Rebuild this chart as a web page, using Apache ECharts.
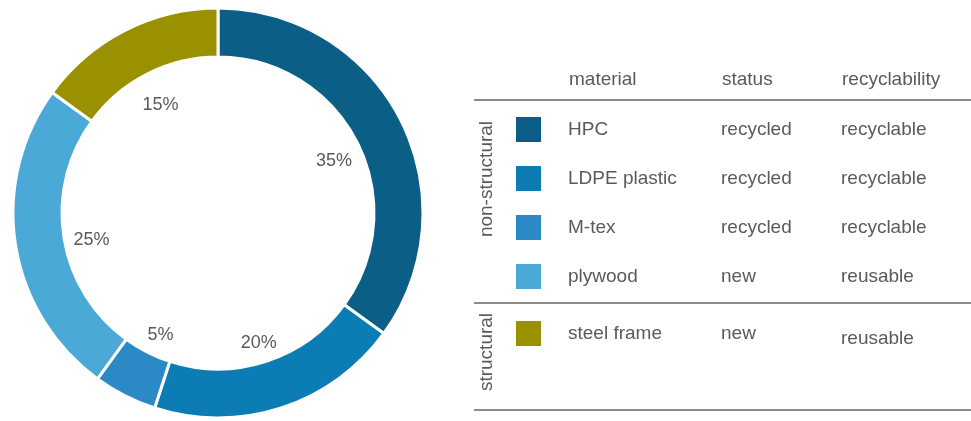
<!DOCTYPE html>
<html>
<head>
<meta charset="utf-8">
<script src="https://cdn.jsdelivr.net/npm/echarts@6/dist/echarts.min.js"></script>
<style>html,body{margin:0;padding:0;background:#fff}#c{width:971px;height:421px}</style>
</head>
<body>
<div id="c"></div>
<script>
const materials = ['HPC', 'LDPE plastic', 'M-tex', 'plywood', 'steel frame'];
const shares = [35, 20, 5, 25, 15];
const statuses = ['recycled', 'recycled', 'recycled', 'new', 'new'];
const recyclability = ['recyclable', 'recyclable', 'recyclable', 'reusable', 'reusable'];
const groups = ['non-structural', 'non-structural', 'non-structural', 'non-structural', 'structural'];
const headers = ['material', 'status', 'recyclability'];
const colors = ['#0b5f87', '#0c7db4', '#2b8ac6', '#4aa9d6', '#9a9100'];

const FONT = '"Liberation Sans", Arial, sans-serif';
const TXT = '#5a5a5a';
const FS = 19;

const pieData = materials.map((m, i) => ({ name: m, value: shares[i], itemStyle: { color: colors[i] } }));

const nonStruct = materials.filter((m, i) => groups[i] === 'non-structural');
const struct = materials.filter((m, i) => groups[i] === 'structural');

function fmt(name) {
  const i = materials.indexOf(name);
  const last = groups[i] === 'structural';
  return '{s| }{a|' + name + '}{b|' + statuses[i] + '}{' + (last ? 'd' : 'c') + '|' + recyclability[i] + '}';
}
const base = { fontSize: FS, fontFamily: FONT, color: TXT, lineHeight: 27 };
const rich = {
  s: Object.assign({ width: 21 }, base),
  a: Object.assign({ width: 153 }, base),
  b: Object.assign({ width: 120 }, base),
  c: Object.assign({}, base),
  d: Object.assign({ padding: [10, 0, 0, 0] }, base)
};
const legendBase = {
  orient: 'vertical', left: 514, padding: 0, itemWidth: 27, itemHeight: 27, itemGap: 20,
  icon: 'rect', selectedMode: false, formatter: fmt,
  textStyle: { rich: rich, fontFamily: FONT, fontSize: FS, color: TXT, lineHeight: 27 }
};

const chart = echarts.init(document.getElementById('c'), null, { renderer: 'canvas' });
const hX = [569, 722, 842];
const graphics = headers.map((h, i) => ({
  type: 'text', left: hX[i], top: 70,
  style: { text: h, font: FS + 'px ' + FONT, fill: TXT }
}));
[100, 303, 410].forEach(y => graphics.push({
  type: 'line', shape: { x1: 474, y1: y, x2: 971, y2: y },
  style: { stroke: '#8a8a8a', lineWidth: 2 }
}));
const groupNames = ['non-structural', 'structural'];
const groupCenters = [179, 352];
groupNames.forEach((g, i) => graphics.push({
  type: 'text', x: 487, y: groupCenters[i], rotation: Math.PI / 2,
  style: { text: g, font: FS + 'px ' + FONT, fill: TXT, align: 'center', verticalAlign: 'middle' }
}));

chart.setOption({
  animation: false,
  legend: [
    Object.assign({ top: 115, data: nonStruct }, legendBase),
    Object.assign({ top: 319, data: struct }, legendBase)
  ],
  graphic: graphics,
  series: [
    {
      type: 'pie', center: [218, 213], radius: [156, 205], startAngle: 90, clockwise: true,
      data: pieData, label: { show: false }, labelLine: { show: false },
      itemStyle: { borderColor: '#fff', borderWidth: 3 },
      emphasis: { disabled: true }, silent: true
    },
    {
      type: 'pie', center: [219, 220], radius: [0, 252], startAngle: 90, clockwise: true,
      data: pieData.map(d => ({ name: d.name, value: d.value, itemStyle: { color: 'rgba(0,0,0,0)' } })),
      itemStyle: { borderWidth: 0 },
      label: { show: true, position: 'inside', formatter: '{c}%', fontFamily: FONT, fontSize: 18, color: TXT },
      labelLine: { show: false }, emphasis: { disabled: true }, silent: true, legendHoverLink: false
    }
  ]
});
</script>
</body>
</html>
